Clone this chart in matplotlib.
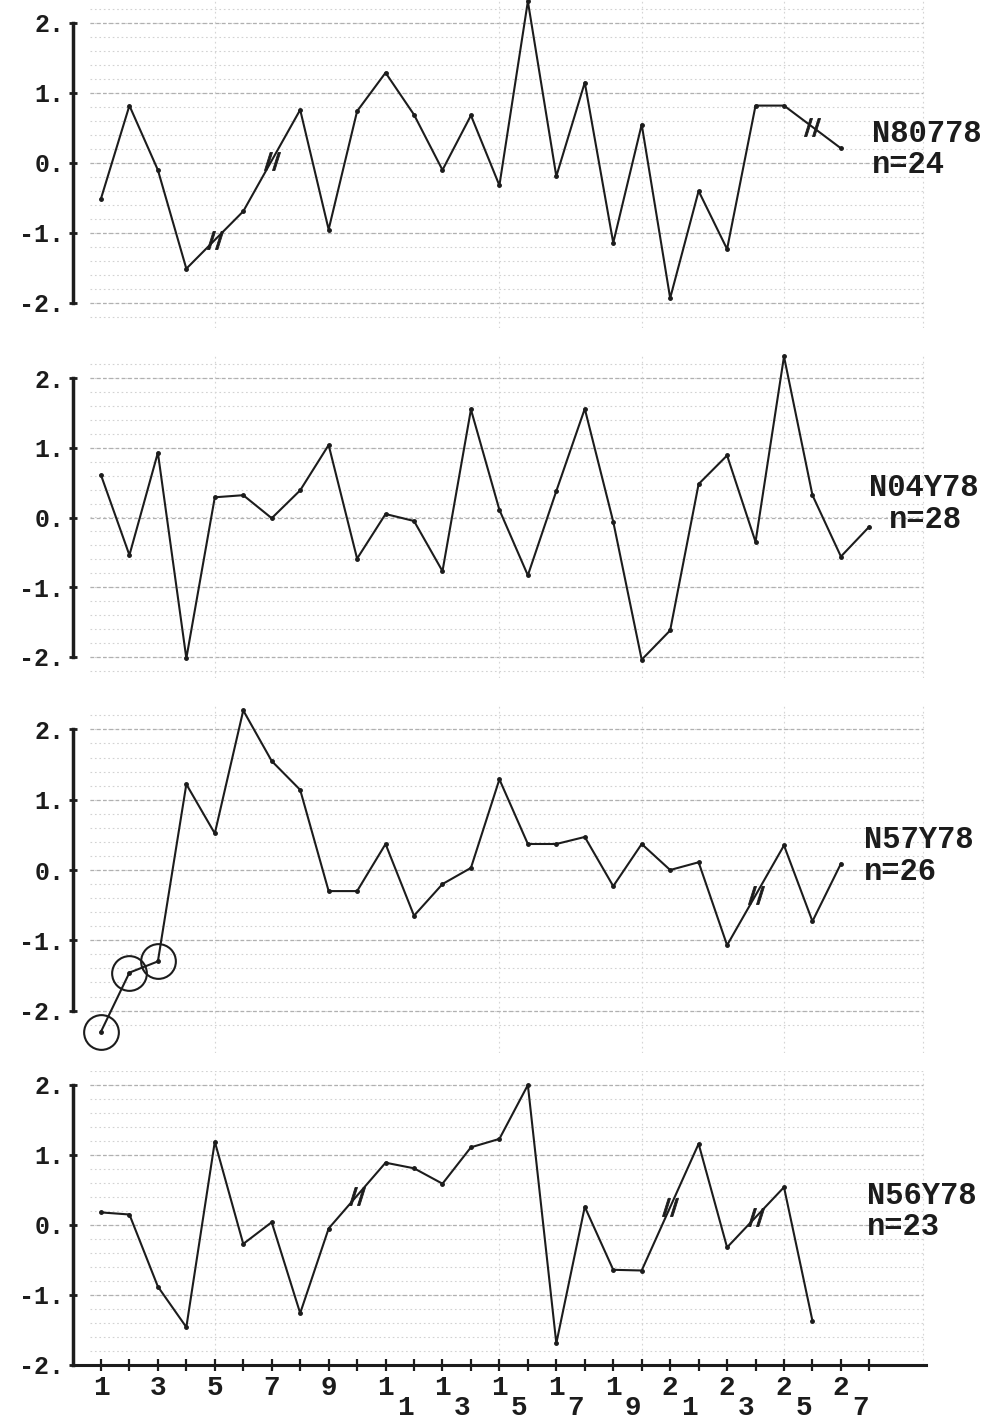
import matplotlib
matplotlib.use("Agg")
import matplotlib.pyplot as plt
import numpy as np

plt.rcParams['font.family'] = ['Liberation Mono', 'DejaVu Sans Mono']
plt.rcParams['font.weight'] = 'bold'

# ---------------- data (standardised residuals by day) ----------------
days_max = 28
station_names = ["N80778", "N04Y78", "N57Y78", "N56Y78"]
station_n = [24, 28, 26, 23]

n80778 = [-0.51, 0.82, -0.10, -1.51, None, -0.69, None, 0.76, -0.95, 0.74,
          1.29, 0.69, -0.10, 0.68, -0.32, 2.31, -0.19, 1.15, -1.14, 0.55,
          -1.93, -0.40, -1.23, 0.82, 0.82, None, 0.21]
n04y78 = [0.61, -0.54, 0.93, -2.02, 0.29, 0.32, -0.01, 0.39, 1.04, -0.59,
          0.05, -0.05, -0.77, 1.55, 0.11, -0.83, 0.38, 1.56, -0.06, -2.04,
          -1.62, 0.48, 0.89, -0.35, 2.31, 0.32, -0.56, -0.13]
n57y78 = [-2.30, -1.46, -1.30, 1.22, 0.52, 2.27, 1.55, 1.14, -0.30, -0.30,
          0.37, -0.65, -0.20, 0.03, 1.29, 0.37, 0.37, 0.47, -0.23, 0.37,
          0.00, 0.11, -1.07, None, 0.35, -0.73, 0.09]
n56y78 = [0.18, 0.15, -0.88, -1.46, 1.19, -0.27, 0.04, -1.26, -0.05, None,
          0.89, 0.81, 0.59, 1.11, 1.23, 2.00, -1.69, 0.26, -0.64, -0.65,
          None, 1.16, -0.32, None, 0.54, -1.37]
circled_days = [[], [], [1, 2, 3], []]

series = [n80778, n04y78, n57y78, n56y78]
ytick_vals = [-2, -1, 0, 1, 2]
ytick_labels = ["-2.", "-1.", "0.", "1.", "2."]
xtick_vals = list(range(1, days_max + 1))
xlabel_days = list(range(1, days_max, 2))

# ---------------- layout ----------------
W, H = 1006, 1427
fig = plt.figure(figsize=(W / 100, H / 100), dpi=100)
fig.patch.set_facecolor('white')

x0_px, xunit = 72.5, 28.46
xlim = (0, 30)
# (zero pixel row, pixels per unit, ylim)
panels = [
    (163.0, 70.0, (-2.35, 2.33)),
    (517.5, 69.7, (-2.30, 2.33)),
    (870.0, 70.3, (-2.60, 2.33)),
    (1225.0, 70.0, (-2.00, 2.20)),
]
label_x = [28.1, 28.0, 27.8, 27.9]
nlabel_x = [28.1, 28.7, 27.8, 27.9]

ink = '#1c1c1c'
for i, (zpx, upx, yl) in enumerate(panels):
    top = zpx - yl[1] * upx
    bot = zpx - yl[0] * upx
    ax = fig.add_axes([x0_px / W, 1 - bot / H, (xlim[1] - xlim[0]) * xunit / W, (bot - top) / H])
    ax.set_xlim(*xlim)
    ax.set_ylim(*yl)
    ax.patch.set_alpha(0)

    # faint graph-paper grid
    ax.hlines(np.arange(-2.2, 2.31, 0.2), 0.6, 29.9, colors='#d2d2d2', lw=0.8,
              linestyles=(0, (1.5, 2.5)), zorder=0)
    ax.hlines(ytick_vals, 0.6, 29.9, colors='#b0b0b0', lw=0.9,
              linestyles=(0, (3, 2)), zorder=0)
    ax.vlines([5, 15, 20, 25, 29.9], yl[0], yl[1], colors='#d5d5d5', lw=0.8,
              linestyles=(0, (1.5, 3)), zorder=0)

    vals = series[i]
    days = np.arange(1, len(vals) + 1)
    xs = [d for d, v in zip(days, vals) if v is not None]
    ys = [v for v in vals if v is not None]
    ax.plot(xs, ys, color=ink, lw=1.5, marker='o', ms=2.5, clip_on=False, zorder=3)

    # break marks on segments spanning missing days
    for k, v in enumerate(vals):
        if v is None and 0 < k < len(vals) - 1 and vals[k - 1] is not None and vals[k + 1] is not None:
            ax.plot(days[k], (vals[k - 1] + vals[k + 1]) / 2, marker='$//$', ms=13,
                    color=ink, mew=0.6, zorder=4, clip_on=False)

    # circled points
    for d in circled_days[i]:
        ax.plot(d, vals[d - 1], marker='o', ms=25, mfc='none', mec=ink, mew=1.5,
                clip_on=False, zorder=4)

    # labels
    ax.text(label_x[i], 0.42, station_names[i], fontsize=22, ha='left', va='center', color=ink)
    ax.text(nlabel_x[i], -0.03, f"n={station_n[i]}", fontsize=22, ha='left', va='center', color=ink)

    # axes styling
    for s in ['top', 'right']:
        ax.spines[s].set_visible(False)
    ax.spines['left'].set_bounds(-2, 2)
    ax.spines['left'].set_linewidth(2.5)
    ax.spines['left'].set_color(ink)
    ax.set_yticks(ytick_vals)
    ax.set_yticklabels(ytick_labels)
    ax.tick_params(axis='y', direction='inout', length=6, width=2, pad=3,
                   labelsize=18, colors=ink)
    if i < 3:
        ax.spines['bottom'].set_visible(False)
        ax.tick_params(axis='x', bottom=False, labelbottom=False)
    else:
        ax.spines['bottom'].set_bounds(0, 30)
        ax.spines['bottom'].set_linewidth(2.2)
        ax.spines['bottom'].set_color(ink)
        ax.set_xticks(xtick_vals)
        ax.set_xticklabels([str(d)[0] if d in xlabel_days else '' for d in xtick_vals])
        ax.tick_params(axis='x', direction='inout', length=9, width=1.6, pad=3,
                       labelsize=20, colors=ink)
        for d in xlabel_days:
            if d >= 10:
                ax.annotate(str(d)[1], xy=(d, 0), xycoords=('data', 'axes fraction'),
                            xytext=(14, -31), textcoords='offset points',
                            fontsize=20, ha='center', va='center', color=ink,
                            annotation_clip=False)

fig.savefig('out.png', dpi=100, facecolor='white')
